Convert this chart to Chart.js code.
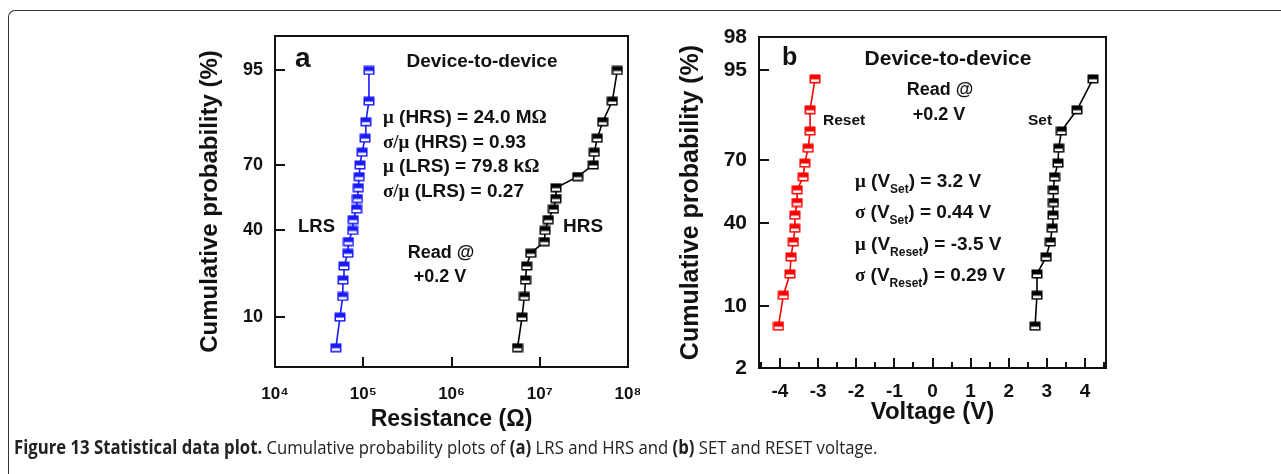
<!DOCTYPE html>
<html lang="en">
<head>
    <meta charset="UTF-8">
    <title>Statistical data plot</title>
    <script src="https://cdn.jsdelivr.net/npm/chart.js"></script>
    <style>
        body { margin: 0; background: #fff; width: 1281px; height: 474px; overflow: hidden; position: relative; }
        .frame { position: absolute; left: 8px; top: 10px; width: 1300px; height: 500px;
                 border-top: 1.5px solid #333; border-left: 1.5px solid #333; border-top-left-radius: 7px; }
        #chartA { position: absolute; left: 150px; top: 20px; }
        #chartB { position: absolute; left: 640px; top: 20px; }
        .plotbox { position: absolute; box-sizing: border-box; border: 2px solid #111; pointer-events: none; }
        .caption { position: absolute; left: 14px; top: 434px; font-family: "Open Sans", sans-serif;
                   font-size: 19px; color: #222; white-space: nowrap; transform: scaleX(0.88); transform-origin: 0 0; }
    </style>
</head>
<body>
    <div class="frame"></div>
    <canvas id="chartA" width="490" height="420"></canvas>
    <canvas id="chartB" width="490" height="420"></canvas>
    <div class="caption"><b>Figure 13 Statistical data plot.</b> Cumulative probability plots of <b>(a)</b> LRS and HRS and <b>(b)</b> SET and RESET voltage.</div>

    <script>
        // ---- data (a): cumulative probability (%) vs resistance (ohm)
        const probA = [5, 10, 15, 20, 25, 30, 35, 40, 45, 50, 55, 60, 65, 70, 75, 80, 85, 90, 95];
        const lrsOhm = [4.9e4, 5.45e4, 5.85e4, 5.9e4, 6.05e4, 6.7e4, 6.8e4, 7.6e4, 7.7e4, 8.4e4,
                        8.6e4, 8.8e4, 9.0e4, 9.2e4, 9.7e4, 1.05e5, 1.07e5, 1.16e5, 1.16e5];
        const hrsOhm = [5.6e6, 6.3e6, 6.7e6, 6.9e6, 7.1e6, 7.9e6, 1.13e7, 1.15e7, 1.25e7, 1.43e7,
                        1.53e7, 1.53e7, 2.69e7, 4.04e7, 4.15e7, 4.49e7, 5.17e7, 6.64e7, 7.57e7];
        const xTicksA = [1e4, 1e5, 1e6, 1e7, 1e8];
        const yTicksA = [10, 40, 70, 95];

        // ---- data (b): cumulative probability (%) vs voltage (V)
        const probB = [6.25, 12.5, 18.75, 25, 31.25, 37.5, 43.75, 50, 56.25, 62.5, 68.75, 75, 81.25, 87.5, 93.75];
        const resetV = [-4.04, -3.91, -3.74, -3.71, -3.65, -3.61, -3.61, -3.55, -3.55, -3.39, -3.35, -3.26, -3.21, -3.21, -3.08];
        const setV = [2.69, 2.74, 2.74, 2.98, 3.09, 3.14, 3.16, 3.17, 3.17, 3.20, 3.29, 3.31, 3.38, 3.79, 4.21];
        const xTicksB = [-4, -3, -2, -1, 0, 1, 2, 3, 4];
        const xMinorB = [-4.5, -3.5, -2.5, -1.5, -0.5, 0.5, 1.5, 2.5, 3.5, 4.5];
        const yTicksB = [2, 10, 40, 70, 95, 98];

        const SANS = '"Liberation Sans", Arial, sans-serif';
        const SERIF = '"Liberation Serif", "Times New Roman", serif';
        const INK = '#111';

        // inverse normal CDF (Acklam) -> probability axis
        function probit(p) {
            const a = [-39.69683028665376, 220.9460984245205, -275.9285104469687, 138.3577518672690, -30.66479806614716, 2.506628277459239];
            const b = [-54.47609879822406, 161.5858368580409, -155.6989798598866, 66.80131188771972, -13.28068155288572];
            const c = [-0.007784894002430293, -0.3223964580411365, -2.400758277161838, -2.549732539343734, 4.374664141464968, 2.938163982698783];
            const d = [0.007784695709041462, 0.3224671290700398, 2.445134137142996, 3.754408661907416];
            const lo = 0.02425;
            if (p < lo) {
                const q = Math.sqrt(-2 * Math.log(p));
                return (((((c[0]*q+c[1])*q+c[2])*q+c[3])*q+c[4])*q+c[5]) / ((((d[0]*q+d[1])*q+d[2])*q+d[3])*q+1);
            }
            if (p > 1 - lo) {
                const q = Math.sqrt(-2 * Math.log(1 - p));
                return -(((((c[0]*q+c[1])*q+c[2])*q+c[3])*q+c[4])*q+c[5]) / ((((d[0]*q+d[1])*q+d[2])*q+d[3])*q+1);
            }
            const q = p - 0.5, r = q * q;
            return (((((a[0]*r+a[1])*r+a[2])*r+a[3])*r+a[4])*r+a[5])*q / (((((b[0]*r+b[1])*r+b[2])*r+b[3])*r+b[4])*r+1);
        }

        // half-filled square marker
        function halfSquare(color) {
            const c = document.createElement('canvas');
            c.width = 12; c.height = 10;
            const g = c.getContext('2d');
            g.fillStyle = color; g.fillRect(0.5, 0.5, 11, 9);
            g.fillStyle = '#fff'; g.fillRect(2, 5.5, 8, 2.5);
            return c;
        }

        function series(xs, ps, color) {
            return {
                data: xs.map((x, i) => ({ x: x, y: probit(ps[i] / 100) })),
                borderColor: color,
                borderWidth: 1.6,
                pointStyle: halfSquare(color),
                showLine: true,
                tension: 0
            };
        }

        // text with greek (serif) and subscript parts
        function drawRich(ctx, x, y, parts, size, align) {
            const fontOf = k => k === 'g' ? `bold ${size}px ${SERIF}` :
                                k === 's' ? `bold ${Math.round(size * 0.62)}px ${SANS}` : `bold ${size}px ${SANS}`;
            let w = 0;
            parts.forEach(p => { ctx.font = fontOf(p[1]); w += ctx.measureText(p[0]).width; });
            let cx = align === 'center' ? x - w / 2 : x;
            ctx.textAlign = 'left';
            ctx.textBaseline = 'alphabetic';
            parts.forEach(p => {
                ctx.font = fontOf(p[1]);
                ctx.fillText(p[0], cx, p[1] === 's' ? y + size * 0.3 : y);
                cx += ctx.measureText(p[0]).width;
            });
        }

        // minor ticks and text notes
        function decor(notes, minorX) {
            return {
                id: 'decor',
                afterDraw(chart) {
                    const ctx = chart.ctx, xs = chart.scales.x;
                    const B = Math.round(chart.chartArea.bottom);
                    ctx.save();
                    ctx.fillStyle = INK;
                    (minorX || []).forEach(v => ctx.fillRect(Math.round(xs.getPixelForValue(v)) - 1, B - 6, 2, 6));
                    notes.forEach(n => drawRich(ctx, n.x, n.y, n.parts, n.size, n.align));
                    ctx.restore();
                }
            };
        }

        // outline the plot area, placed from the chart's own layout
        function plotBox(chart) {
            const a = chart.chartArea, cv = chart.canvas;
            const box = document.createElement('div');
            box.className = 'plotbox';
            box.style.left = (cv.offsetLeft + Math.round(a.left) - 1) + 'px';
            box.style.top = (cv.offsetTop + Math.round(a.top) - 1) + 'px';
            box.style.width = (Math.round(a.right) - Math.round(a.left) + 2) + 'px';
            box.style.height = (Math.round(a.bottom) - Math.round(a.top) + 2) + 'px';
            document.body.appendChild(box);
        }

        const edge = { display: true, width: 2, color: INK };
        const inwardTicks = { display: true, drawOnChartArea: false, drawTicks: true, tickLength: -10, lineWidth: 2, color: INK };
        const noPad = s => { s.paddingLeft = 0; s.paddingRight = 0; s.paddingTop = 0; s.paddingBottom = 0; };

        function options(cfg) {
            return {
                responsive: false,
                animation: false,
                devicePixelRatio: 1,
                layout: { padding: { top: cfg.padTop, right: cfg.padRight, left: 0, bottom: 0 } },
                plugins: { legend: { display: false }, tooltip: { enabled: false } },
                scales: {
                    x: Object.assign({
                        grid: inwardTicks,
                        border: edge,
                        afterBuildTicks: s => { s.ticks = cfg.xTicks.map(v => ({ value: v })); },
                        afterFit: s => { s.height = cfg.xHeight; noPad(s); },
                        ticks: { autoSkip: false, maxRotation: 0, color: INK, padding: cfg.xTickPad + 19,
                                 font: { family: SANS, size: cfg.xTickSize, weight: 'bold' }, callback: cfg.xLabel },
                        title: { display: true, text: cfg.xTitle, color: INK,
                                 font: { family: SANS, size: cfg.xTitleSize, weight: 'bold' }, padding: { top: 0, bottom: cfg.xTitlePad } }
                    }, cfg.xScale),
                    y: {
                        type: 'linear',
                        min: probit(cfg.yMin / 100),
                        max: probit(cfg.yMax / 100),
                        grid: inwardTicks,
                        border: edge,
                        afterBuildTicks: s => { s.ticks = cfg.yTicks.map(p => ({ value: probit(p / 100) })); },
                        afterFit: s => { s.width = cfg.yWidth; noPad(s); },
                        ticks: { autoSkip: false, color: INK, padding: 22,
                                 font: { family: SANS, size: cfg.yTickSize, weight: 'bold' },
                                 callback: (v, i) => String(cfg.yTicks[i]) },
                        title: { display: true, text: 'Cumulative probability (%)', color: INK,
                                 font: { family: SANS, size: cfg.yTitleSize, weight: 'bold' }, padding: { top: cfg.yTitlePad, bottom: 0 } }
                    },
                    // frame edges on top and right
                    xTop: { type: 'linear', axis: 'x', position: 'top', min: 0, max: 1, grid: { display: false }, border: edge,
                            ticks: { display: false }, afterFit: s => { s.height = 0; noPad(s); } },
                    yRight: { type: 'linear', axis: 'y', position: 'right', min: 0, max: 1, grid: { display: false }, border: edge,
                              ticks: { display: false }, afterFit: s => { s.width = 0; noPad(s); } }
                }
            };
        }

        const SUP = { 4: '\u2074', 5: '\u2075', 6: '\u2076', 7: '\u2077', 8: '\u2078' };

        const notesA = [
            { x: 145, y: 47, size: 28, parts: [['a']] },
            { x: 332, y: 47, size: 19, align: 'center', parts: [['Device-to-device']] },
            { x: 233, y: 103, size: 19, parts: [['\u03bc', 'g'], [' (HRS) = 24.0 M'], ['\u03a9', 'g']] },
            { x: 233, y: 127.5, size: 19, parts: [['\u03c3/\u03bc', 'g'], [' (HRS) = 0.93']] },
            { x: 233, y: 152, size: 19, parts: [['\u03bc', 'g'], [' (LRS) = 79.8 k'], ['\u03a9', 'g']] },
            { x: 233, y: 176.5, size: 19, parts: [['\u03c3/\u03bc', 'g'], [' (LRS) = 0.27']] },
            { x: 148, y: 212, size: 18.5, parts: [['LRS']] },
            { x: 413, y: 212, size: 19, parts: [['HRS']] },
            { x: 291, y: 238, size: 18, align: 'center', parts: [['Read @']] },
            { x: 290, y: 262, size: 18, align: 'center', parts: [['+0.2 V']] }
        ];

        const notesB = [
            { x: 142, y: 45, size: 25, parts: [['b']] },
            { x: 308, y: 45, size: 21, align: 'center', parts: [['Device-to-device']] },
            { x: 300, y: 75, size: 18, align: 'center', parts: [['Read @']] },
            { x: 299, y: 100, size: 18, align: 'center', parts: [['+0.2 V']] },
            { x: 183, y: 105, size: 15.5, parts: [['Reset']] },
            { x: 388, y: 105, size: 15.5, parts: [['Set']] },
            { x: 215, y: 167, size: 19, parts: [['\u03bc', 'g'], [' (V'], ['Set', 's'], [') = 3.2 V']] },
            { x: 215, y: 198, size: 19, parts: [['\u03c3', 'g'], [' (V'], ['Set', 's'], [') = 0.44 V']] },
            { x: 215, y: 230, size: 19, parts: [['\u03bc', 'g'], [' (V'], ['Reset', 's'], [') = -3.5 V']] },
            { x: 215, y: 261, size: 19, parts: [['\u03c3', 'g'], [' (V'], ['Reset', 's'], [') = 0.29 V']] }
        ];

        const chartA = new Chart(document.getElementById('chartA'), {
            type: 'scatter',
            data: { datasets: [series(lrsOhm, probA, '#1a1aff'), series(hrsOhm, probA, '#000')] },
            options: options({
                padTop: 16, padRight: 12, xHeight: 73, yWidth: 125,
                xScale: { type: 'logarithmic', min: 1e4, max: 1e8 },
                xTicks: xTicksA, xTickSize: 17, xTickPad: 8,
                xLabel: v => '10' + SUP[Math.round(Math.log10(v))],
                xTitle: 'Resistance (\u03a9)', xTitleSize: 23, xTitlePad: 7,
                yMin: 3.05, yMax: 98, yTicks: yTicksA, yTickSize: 18, yTitleSize: 24, yTitlePad: 46
            }),
            plugins: [decor(notesA)]
        });

        const chartB = new Chart(document.getElementById('chartB'), {
            type: 'scatter',
            data: { datasets: [series(resetV, probB, '#ff0000'), series(setV, probB, '#000')] },
            options: options({
                padTop: 17, padRight: 24, xHeight: 72, yWidth: 119,
                xScale: { type: 'linear', min: -4.55, max: 4.55 },
                xTicks: xTicksB, xTickSize: 19, xTickPad: 3,
                xLabel: v => String(v),
                xTitle: 'Voltage (V)', xTitleSize: 24, xTitlePad: 13,
                yMin: 2, yMax: 98, yTicks: yTicksB, yTickSize: 21, yTitleSize: 25, yTitlePad: 36
            }),
            plugins: [decor(notesB, xMinorB)]
        });

        plotBox(chartA);
        plotBox(chartB);
    </script>
</body>
</html>
